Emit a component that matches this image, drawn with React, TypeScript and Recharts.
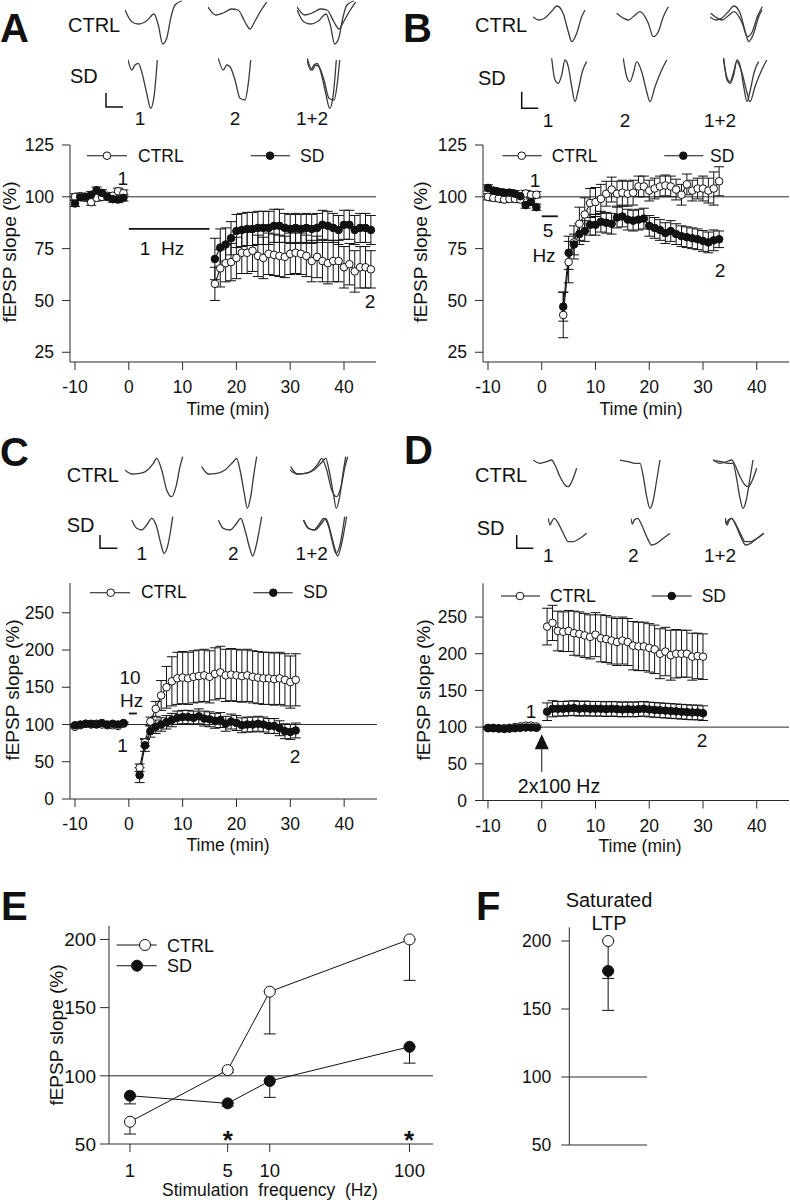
import React from 'react';
import { LineChart, Line, XAxis, YAxis, ErrorBar, ReferenceLine, ReferenceDot } from 'recharts';

const FONT = '"Liberation Sans", Arial, Helvetica, sans-serif';
const INK = '#111';
const AXIS = '#2a2a2a';
const TRACE = '#3a3a3a';

// ---------- shared ----------
const TIME_TICKS = [-10, 0, 10, 20, 30, 40];
const BASE_T = [-10, -9, -8, -7, -6, -5, -4, -3, -2, -1];
const BASE_ERR = [1.5, 1.5, 1.5, 1.5, 1.5, 1.5, 1.5, 1.5, 1.5, 1.5];

// ---------- Panel A (1 Hz) ----------
const A_ctrlBase = [100, 100.3, 99.5, 97.4, 99.5, 100, 100.5, 100.5, 102.7, 101.8];
const A_sdBase = [96.8, 99.8, 100, 101, 103.2, 101.9, 100, 98.9, 98.7, 99.5];
const A_postT = [16, 17, 18, 19, 20, 21, 22, 23, 24, 25, 26, 27, 28, 29, 30, 31, 32, 33, 34, 35, 36, 37, 38, 39, 40, 41, 42, 43, 44, 45];
const A_ctrlPost = [58, 65.5, 68, 68.5, 70.5, 73, 73, 74, 71.5, 70.5, 72.5, 72, 71.5, 71, 72.5, 73, 72.5, 71.5, 69, 71, 69, 68, 69, 69, 66, 67.5, 64, 66, 66, 65];
const A_sdPost = [70, 75.5, 77, 80, 83.5, 84, 84.5, 84.5, 85, 85, 85, 86, 86, 85, 84.5, 85, 84.5, 85, 84.5, 85, 86.5, 86, 85, 84, 86.5, 86.5, 84, 85, 85, 84];
const A_ctrlErr = [8, 9, 9, 9, 10, 10, 10, 10, 10, 10, 10, 10, 10, 10, 10, 10, 10, 10, 10, 10, 10, 10, 10, 10, 10, 10, 10, 10, 10, 9];
const A_sdErr = [10, 9, 8, 8, 8, 8, 8, 8, 8, 8, 8, 8, 8, 7, 7, 7, 7, 7, 7, 7, 7, 7, 7, 7, 7, 7, 7, 7, 7, 7];

// ---------- Panel B (5 Hz) ----------
const B_ctrlBase = [100, 99.5, 99.2, 98.7, 99, 99, 98.7, 101.6, 101, 101];
const B_sdBase = [104.3, 103, 102.4, 102, 102, 101.5, 100.3, 96, 97.5, 95];
const B_postT = [4, 5, 6, 7, 8, 9, 10, 11, 12, 13, 14, 15, 16, 17, 18, 19, 20, 21, 22, 23, 24, 25, 26, 27, 28, 29, 30, 31, 32, 33];
const B_ctrlPost = [43, 68.5, 78, 87, 91.5, 97, 97.5, 99, 101.5, 103.5, 101.5, 102, 101.5, 102, 105, 105, 103, 104, 105, 105.5, 105, 103.5, 101, 106, 103, 104, 104, 103, 104, 107.5];
const B_sdPost = [47, 73, 77, 82, 83.5, 86.5, 86.5, 88, 87.5, 87, 90, 90.5, 89, 88.5, 89, 89.5, 86, 85, 84, 82.5, 83.5, 82, 81, 80.5, 80, 79.5, 78.7, 78, 79, 79.5];
const B_ctrlErr = [11, 10, 8, 8, 8, 7, 7, 7, 6, 6, 6, 6, 6, 6, 5, 5, 5, 5, 5, 5, 5, 5, 5, 5, 5, 5, 6, 6, 8, 7];
const B_sdErr = [7, 8, 5, 5, 5, 5, 5, 5, 5, 5, 5, 5, 5, 5, 5, 5, 5, 5, 5, 5, 5, 5, 5, 5, 5, 5, 5, 5, 5, 4];

// ---------- Panel C (10 Hz) ----------
const C_ctrlBase = [97, 99, 101, 100, 101, 100, 99, 99, 98, 101];
const C_sdBase = [99, 100, 101, 101, 100, 102, 100, 101, 100, 102];
const C_postT = [2, 3, 4, 5, 6, 7, 8, 9, 10, 11, 12, 13, 14, 15, 16, 17, 18, 19, 20, 21, 22, 23, 24, 25, 26, 27, 28, 29, 30, 31];
const C_ctrlPost = [42, 76, 104, 121, 139, 150, 158, 162, 163, 162, 164, 165, 166, 164, 168, 170, 166, 167, 166, 165, 166, 164, 163, 162, 162, 161, 162, 160, 157, 160];
const C_sdPost = [32, 72, 91, 97, 100, 103, 106, 109, 110, 110, 109, 111, 108, 107, 105, 106, 101, 104, 102, 99, 100, 100, 101, 100, 98, 98, 95, 91, 90, 92];
const C_ctrlErr = [5, 5, 6, 10, 20, 28, 33, 35, 35, 35, 35, 35, 35, 35, 35, 35, 35, 35, 35, 35, 35, 35, 35, 35, 35, 35, 35, 35, 35, 35];
const C_sdErr = [10, 8, 8, 9, 9, 9, 9, 9, 9, 9, 9, 10, 10, 10, 10, 10, 10, 10, 10, 10, 10, 10, 10, 10, 10, 10, 10, 10, 10, 10];

// ---------- Panel D (2x100 Hz) ----------
const D_ctrlBase = [99, 99, 98.5, 98.5, 99, 100, 101, 102, 102, 101];
const D_sdBase = [98.5, 98.5, 98, 97.5, 98, 98.5, 99, 99.5, 99.5, 99];
const D_postT = [1, 2, 3, 4, 5, 6, 7, 8, 9, 10, 11, 12, 13, 14, 15, 16, 17, 18, 19, 20, 21, 22, 23, 24, 25, 26, 27, 28, 29, 30];
const D_ctrlPost = [237, 242, 231, 230, 231, 228, 227, 225, 223, 226, 221, 220, 218, 216, 218, 216, 211, 210, 210, 208, 206, 200, 203, 198, 200, 200, 200, 196, 197, 196];
const D_sdPost = [121, 125, 125, 125, 125.5, 126, 125, 125.5, 125, 125, 125, 124.5, 125, 124.5, 124, 124.5, 124, 124.5, 125, 124, 123.5, 123, 122.5, 122, 121.5, 121, 120.5, 120, 120, 119];
const D_ctrlErr = [25, 24, 27, 27, 28, 30, 30, 30, 30, 30, 32, 32, 32, 32, 32, 32, 33, 33, 33, 33, 33, 34, 33, 34, 33, 32, 32, 32, 31, 31];
const D_sdErr = [12, 11, 10, 10, 10, 10, 10, 10, 10, 10, 10, 10, 10, 10, 10, 10, 10, 10, 10, 10, 10, 10, 10, 10, 10, 10, 10, 10, 10, 10];

// ---------- Panel E ----------
const E_freq = [1, 5, 10, 100];
const E_ctrl = [66.3, 104.2, 161.7, 200];
const E_ctrlErr = [9, 2, 31, 30];
const E_sd = [85.4, 79.8, 96.2, 121.3];
const E_sdErr = [6, 2, 12, 12];

// ---------- Panel F ----------
const F_ctrl = [200];
const F_ctrlErr = [27.5];
const F_sd = [178];
const F_sdErr = [29];

// ---------- fEPSP traces ([time, amplitude]) ----------
const TR_A_c1 = [[0, -10], [6.7, -21.7], [13.3, -24], [21.7, -20.7], [29, -14], [33.3, -25], [37.7, -44], [41.7, -38.3], [45.7, -18.3], [50, -5], [56.7, -1]];
const TR_A_c2 = [[0, -7], [8, -15], [15, -13], [23.7, -9], [30, -10], [37, -22], [42, -29], [47, -21], [52, -12], [58.7, -2]];
const TR_A_s1 = [[0, -2], [3.7, -12], [7, -7], [10.3, -5.3], [13.7, -13.7], [18.7, -35.3], [22.7, -50.3], [26, -38.7], [28, -18.7], [29.3, -2]];
const TR_A_s2 = [[0.3, -0.3], [5.3, -12], [8.7, -7], [12, -8.7], [17, -22], [22, -40.3], [27, -42], [30.3, -25.3], [32.7, -2]];
const TR_B_c1 = [[0, -17], [6, -20], [12, -18], [18, -12], [24, -6], [30, -13], [35.3, -31.7], [38.7, -41.7], [43.7, -33.3], [48.7, -16.7], [52, -10]];
const TR_B_c2 = [[0.7, -13.3], [7, -18], [12.3, -20], [18, -16], [24, -11.7], [32.3, -23.3], [37.3, -36.7], [42.3, -31.7], [47.3, -16.7], [52.3, -6.7]];
const TR_B_s1 = [[0.7, -2.3], [4, -24], [7.3, -27.3], [10.7, -19], [14, -4], [17.3, -10.7], [20.7, -30.7], [24, -45.7], [27.3, -34], [31.3, -15.7], [35.7, -5.7]];
const TR_B_s2 = [[0.3, -2.3], [3.7, -20.7], [7, -25.7], [10.3, -17.3], [13.7, -5.7], [18.7, -15.7], [23.7, -35.7], [27, -45.7], [32, -30.7], [38.7, -14], [43.7, -4]];
const TR_C_c1 = [[0, -15], [6.7, -19], [15, -18.3], [21.7, -15.7], [28.3, -8.3], [31.7, -3.3], [36.7, -15], [41.7, -35], [46.7, -41.7], [51, -31.7], [55, -11.7], [57.7, -1.7]];
const TR_C_c2 = [[0.7, -11.7], [7.3, -19], [15.7, -18.3], [24, -15], [32.3, -6.7], [35.7, -3.3], [39, -15], [43.3, -38.3], [46.3, -53.3], [49.7, -41.7], [53, -18.3], [55.7, -1.7]];
const TR_C_s1 = [[0.7, -5], [5.7, -13.3], [10.7, -15], [15.7, -10], [20.7, -3.3], [25.7, -11.7], [29.7, -28.3], [33, -38.3], [37.3, -28.3], [39.7, -15], [41.7, -1.7]];
const TR_C_s2 = [[0.3, -5], [5.3, -13.3], [12, -15], [18.7, -8.3], [22.7, -3.3], [27, -15], [31.3, -31.7], [34.7, -41], [38.7, -28.3], [41.3, -15], [43.7, -1.7]];
const TR_D_c1 = [[0.3, -5], [7, -8.3], [13.7, -6.7], [18.7, -5], [22, -10], [27, -21.7], [32, -30], [35.3, -31.7], [38.7, -26.7], [43.7, -13.3]];
const TR_D_c2 = [[0, -5], [8.3, -6.7], [15, -8.3], [20, -8.3], [23.3, -21.7], [26.7, -41.7], [30, -53.3], [33.3, -45], [36.7, -25], [40, -5]];
const TR_D_s1 = [[0.3, -3.3], [2, -10], [3.7, -6.7], [6.3, -3.3], [10.3, -8.3], [15.3, -18.3], [20.3, -26.7], [25.3, -26.7], [32, -23.3], [38.7, -18.3]];
const TR_D_s2 = [[0, -3.3], [1.3, -9], [3.3, -5], [6.7, -3.3], [10.7, -10], [15.7, -21.7], [20.7, -30], [25.7, -28.3], [32.3, -23.3], [39, -18.3]];

// ---------- helpers ----------
function buildRows(baseC: number[], baseS: number[], gapT: number, postT: number[], postC: number[], postS: number[], postCE: number[], postSE: number[]) {
  const rows: any[] = [];
  BASE_T.forEach((t, i) => rows.push({ t, ctrl: baseC[i], sd: baseS[i], ctrlErr: BASE_ERR[i], sdErr: BASE_ERR[i] }));
  rows.push({ t: gapT, ctrl: null, sd: null });
  postT.forEach((t, i) => rows.push({ t, ctrl: postC[i], sd: postS[i], ctrlErr: postCE[i], sdErr: postSE[i] }));
  return rows;
}

const rowsA = buildRows(A_ctrlBase, A_sdBase, 5, A_postT, A_ctrlPost, A_sdPost, A_ctrlErr, A_sdErr);
const rowsB = buildRows(B_ctrlBase, B_sdBase, 1.5, B_postT, B_ctrlPost, B_sdPost, B_ctrlErr, B_sdErr);
const rowsC = buildRows(C_ctrlBase, C_sdBase, 0.5, C_postT, C_ctrlPost, C_sdPost, C_ctrlErr, C_sdErr);
const rowsD = buildRows(D_ctrlBase, D_sdBase, 0, D_postT, D_ctrlPost, D_sdPost, D_ctrlErr, D_sdErr);

const rowsE = E_freq.map((f, i) => ({ lx: Math.log10(f), ctrl: E_ctrl[i], sd: E_sd[i], ctrlErr: [E_ctrlErr[i], 0], sdErr: [E_sdErr[i], 0] }));
const E_ticks = E_freq.map((f) => Math.log10(f));
const rowsF = [{ x: 1, ctrl: F_ctrl[0], sd: F_sd[0], ctrlErr: [F_ctrlErr[0], 0], sdErr: [F_sdErr[0], 0] }];

type Box = { l: number; r: number; t: number; b: number };

const tickStyle = (size: number) => ({ fontSize: size, fill: INK, fontFamily: FONT });

function TimePanel(props: {
  left: number; top: number; width: number; height: number; plot: Box;
  xDomain: [number, number]; yDomain: [number, number]; yTicks: number[]; rows: any[]; children?: any;
}) {
  const { left, top, width, height, plot, xDomain, yDomain, yTicks, rows, children } = props;
  const margin = { top: plot.t - top, right: left + width - plot.r, bottom: 0, left: 0 };
  return (
    <div style={{ position: 'absolute', left, top }}>
      <LineChart width={width} height={height} data={rows} margin={margin}>
        <XAxis type="number" dataKey="t" domain={xDomain} ticks={TIME_TICKS} allowDataOverflow
          height={top + height - plot.b} tickSize={8} tickMargin={11} interval={0} stroke={AXIS} tick={tickStyle(17.5)} />
        <YAxis type="number" domain={yDomain} ticks={yTicks} allowDataOverflow width={plot.l - left}
          tickSize={8} tickMargin={8} interval={0} stroke={AXIS} tick={tickStyle(17.5)} />
        <ReferenceLine y={100} stroke={AXIS} strokeWidth={1} />
        {children}
        <Line dataKey="ctrl" stroke={INK} strokeWidth={1.1} isAnimationActive={false}
          dot={{ r: 3.8, fill: '#fff', stroke: INK, strokeWidth: 1 }} activeDot={false}>
          <ErrorBar dataKey="ctrlErr" width={5} stroke={INK} strokeWidth={1} direction="y" />
        </Line>
        <Line dataKey="sd" stroke={INK} strokeWidth={1.1} isAnimationActive={false}
          dot={{ r: 3.8, fill: INK, stroke: INK, strokeWidth: 1 }} activeDot={false}>
          <ErrorBar dataKey="sdErr" width={5} stroke={INK} strokeWidth={1} direction="y" />
        </Line>
      </LineChart>
    </div>
  );
}

function Trace({ x, y, lines }: { x: number; y: number; lines: number[][][] }) {
  return (
    <div style={{ position: 'absolute', left: x - 5, top: y - 5 }}>
      <LineChart width={70} height={70} margin={{ top: 5, right: 5, bottom: 5, left: 5 }}>
        <XAxis type="number" dataKey="x" domain={[0, 60]} hide allowDataOverflow />
        <YAxis type="number" domain={[-60, 0]} hide allowDataOverflow />
        {lines.map((ln, i) => (
          <Line key={i} data={ln.map(([px, v]) => ({ x: px, v }))} dataKey="v" type="monotone"
            stroke={TRACE} strokeWidth={1.3} dot={false} activeDot={false} isAnimationActive={false} />
        ))}
      </LineChart>
    </div>
  );
}

const TRACE_BOXES = [
  { x: 125, y: 0, lines: [TR_A_c1] }, { x: 208, y: 0, lines: [TR_A_c2] }, { x: 297, y: 0, lines: [TR_A_c1, TR_A_c2] },
  { x: 128, y: 58, lines: [TR_A_s1] }, { x: 218, y: 58, lines: [TR_A_s2] }, { x: 307, y: 58, lines: [TR_A_s1, TR_A_s2] },
  { x: 533, y: 0, lines: [TR_B_c1] }, { x: 616, y: 0, lines: [TR_B_c2] }, { x: 710, y: 0, lines: [TR_B_c1, TR_B_c2] },
  { x: 551, y: 56, lines: [TR_B_s1] }, { x: 623, y: 56, lines: [TR_B_s2] }, { x: 723, y: 56, lines: [TR_B_s1, TR_B_s2] },
  { x: 125, y: 455, lines: [TR_C_c1] }, { x: 201, y: 455, lines: [TR_C_c2] }, { x: 290, y: 455, lines: [TR_C_c1, TR_C_c2] },
  { x: 131, y: 515, lines: [TR_C_s1] }, { x: 218, y: 515, lines: [TR_C_s2] }, { x: 303, y: 515, lines: [TR_C_s1, TR_C_s2] },
  { x: 533, y: 455, lines: [TR_D_c1] }, { x: 620, y: 455, lines: [TR_D_c2] }, { x: 713, y: 455, lines: [TR_D_c1, TR_D_c2] },
  { x: 548, y: 515, lines: [TR_D_s1] }, { x: 631, y: 515, lines: [TR_D_s2] }, { x: 725, y: 515, lines: [TR_D_s1, TR_D_s2] },
];

// ---------- overlay text ----------
function Txt({ x, y, s = 17.5, a = 'start', w = 'normal', children }: any) {
  return (
    <text x={x} y={y} fontSize={s} fontFamily={FONT} textAnchor={a} fontWeight={w} fill={INK} style={{ whiteSpace: 'pre' }}>
      {children}
    </text>
  );
}
function YTitle({ x, y, s = 19 }: any) {
  return (
    <text x={x} y={y} fontSize={s} fontFamily={FONT} textAnchor="middle" dominantBaseline="central" fill={INK}
      transform={`rotate(-90 ${x} ${y})`}>fEPSP slope (%)</text>
  );
}
function Leg({ x1, x2, cx, y, r = 3.8, filled, label, tx, ty, s = 17.5 }: any) {
  return (
    <g>
      <line x1={x1} x2={x2} y1={y} y2={y} stroke={INK} strokeWidth={1.1} />
      <circle cx={cx} cy={y} r={r} fill={filled ? INK : '#fff'} stroke={INK} strokeWidth={1} />
      <Txt x={tx} y={ty} s={s}>{label}</Txt>
    </g>
  );
}
function ScaleBar({ x, y1, y2, x2 }: any) {
  return <polyline points={`${x},${y1} ${x},${y2} ${x2},${y2}`} fill="none" stroke={INK} strokeWidth={1.5} />;
}

function Overlay() {
  return (
    <svg width={790} height={1200} style={{ position: 'absolute', left: 0, top: 0, pointerEvents: 'none' }}>
      {/* panel letters */}
      <Txt x={0} y={42} s={40} w="bold">A</Txt>
      <Txt x={403} y={42} s={40} w="bold">B</Txt>
      <Txt x={0} y={466} s={40} w="bold">C</Txt>
      <Txt x={404} y={464} s={40} w="bold">D</Txt>
      <Txt x={1} y={920} s={40} w="bold">E</Txt>
      <Txt x={476} y={920} s={40} w="bold">F</Txt>

      {/* inset labels A */}
      <Txt x={68} y={31.7} s={20}>CTRL</Txt>
      <Txt x={70} y={83.3} s={20}>SD</Txt>
      <Txt x={140} y={125} s={19} a="middle">1</Txt>
      <Txt x={235} y={125} s={19} a="middle">2</Txt>
      <Txt x={312} y={125} s={19} a="middle">1+2</Txt>
      <ScaleBar x={106} y1={93} y2={107} x2={123} />
      {/* inset labels B */}
      <Txt x={475} y={31.7} s={20}>CTRL</Txt>
      <Txt x={478} y={85} s={20}>SD</Txt>
      <Txt x={548} y={126.7} s={19} a="middle">1</Txt>
      <Txt x={625} y={126.7} s={19} a="middle">2</Txt>
      <Txt x={720} y={126.7} s={19} a="middle">1+2</Txt>
      <ScaleBar x={521.7} y1={91.7} y2={108.3} x2={538.3} />
      {/* inset labels C */}
      <Txt x={66.7} y={481.7} s={20}>CTRL</Txt>
      <Txt x={66.7} y={531.7} s={20}>SD</Txt>
      <Txt x={141.7} y={560} s={19} a="middle">1</Txt>
      <Txt x={233.3} y={560} s={19} a="middle">2</Txt>
      <Txt x={311.7} y={560} s={19} a="middle">1+2</Txt>
      <ScaleBar x={100} y1={535} y2={548.3} x2={117.3} />
      {/* inset labels D */}
      <Txt x={475} y={481.7} s={20}>CTRL</Txt>
      <Txt x={476.7} y={535} s={20}>SD</Txt>
      <Txt x={548.3} y={561.7} s={19} a="middle">1</Txt>
      <Txt x={633.3} y={561.7} s={19} a="middle">2</Txt>
      <Txt x={720} y={561.7} s={19} a="middle">1+2</Txt>
      <ScaleBar x={516.7} y1={535} y2={548.3} x2={533.3} />

      {/* legends */}
      <Leg x1={87} x2={127} cx={107} y={155.7} label="CTRL" tx={138} ty={161.7} />
      <Leg x1={250.7} x2={290} cx={270} y={155.7} filled label="SD" tx={300} ty={161.7} />
      <Leg x1={502.3} x2={541.7} cx={521.7} y={155.7} label="CTRL" tx={551.7} ty={161.7} />
      <Leg x1={664.3} x2={703.3} cx={683.3} y={155.7} filled label="SD" tx={710} ty={161.7} />
      <Leg x1={90} x2={130} cx={110.7} y={592.7} label="CTRL" tx={141} ty={598.3} />
      <Leg x1={253.3} x2={292.7} cx={273.3} y={592.7} filled label="SD" tx={303.3} ty={598.3} />
      <Leg x1={501} x2={540} cx={520} y={596} label="CTRL" tx={550} ty={601.7} />
      <Leg x1={651.7} x2={691.7} cx={671.7} y={596} filled label="SD" tx={701.7} ty={601.7} />
      <Leg x1={116.7} x2={156.7} cx={145} y={945} r={5.5} label="CTRL" tx={167} ty={951.7} s={18} />
      <Leg x1={116.7} x2={156.7} cx={137} y={965.7} r={5.5} filled label="SD" tx={167} ty={971.7} s={18} />

      {/* axis titles */}
      <YTitle x={9} y={252} />
      <YTitle x={420} y={252} />
      <YTitle x={12} y={690} />
      <YTitle x={423} y={690} />
      <YTitle x={56} y={1035} />
      <Txt x={228} y={415} a="middle">Time (min)</Txt>
      <Txt x={641} y={415} a="middle">Time (min)</Txt>
      <Txt x={228} y={851} a="middle">Time (min)</Txt>
      <Txt x={640} y={852} a="middle">Time (min)</Txt>
      <Txt x={270} y={1196} s={17.5} a="middle">{'Stimulation  frequency  (Hz)'}</Txt>

      {/* annotations */}
      <Txt x={122.7} y={185} s={19} a="middle">1</Txt>
      <Txt x={370} y={308} s={19} a="middle">2</Txt>
      <Txt x={162} y={255} s={19} a="middle">{'1  Hz'}</Txt>
      <Txt x={535} y={186.7} s={19} a="middle">1</Txt>
      <Txt x={720} y={276.7} s={19} a="middle">2</Txt>
      <Txt x={548} y={236.7} s={19} a="middle">5</Txt>
      <Txt x={544} y={261.7} s={19} a="middle">Hz</Txt>
      <Txt x={130} y={684} s={19} a="middle">10</Txt>
      <Txt x={131.7} y={707} s={19} a="middle">Hz</Txt>
      <Txt x={122.5} y={751.7} s={19} a="middle">1</Txt>
      <Txt x={295} y={763} s={19} a="middle">2</Txt>
      <Txt x={531} y={718.3} s={19} a="middle">1</Txt>
      <Txt x={702} y={746.7} s={19} a="middle">2</Txt>
      <Txt x={559} y={793.3} s={19.5} a="middle">2x100 Hz</Txt>
      <Txt x={227.7} y={1149} s={26} a="middle" w="bold">*</Txt>
      <Txt x={409} y={1149} s={26} a="middle" w="bold">*</Txt>
      <Txt x={609} y={906.7} s={20} a="middle">Saturated</Txt>
      <Txt x={609} y={930} s={20} a="middle">LTP</Txt>
    </svg>
  );
}

const triangle = (p: any) => (
  <polygon points={`${p.cx},${p.cy - 7.5} ${p.cx - 7},${p.cy + 7.5} ${p.cx + 7},${p.cy + 7.5}`} fill={INK} />
);

export default function App() {
  return (
    <div style={{ position: 'absolute', left: 0, top: 0, width: 790, height: 1200, background: '#fff', overflow: 'hidden' }}>
      {TRACE_BOXES.map((b, i) => <Trace key={i} x={b.x} y={b.y} lines={b.lines} />)}

      <TimePanel left={0} top={120} width={395} height={300} plot={{ l: 70, r: 376, t: 145, b: 362 }}
        xDomain={[-10.93, 45.95]} yDomain={[20.3, 125]} yTicks={[25, 50, 75, 100, 125]} rows={rowsA}>
        <ReferenceLine segment={[{ x: 0, y: 84.5 }, { x: 15, y: 84.5 }]} stroke={INK} strokeWidth={1.8} />
      </TimePanel>

      <TimePanel left={395} top={120} width={395} height={300} plot={{ l: 483, r: 789, t: 145, b: 362 }}
        xDomain={[-10.93, 46]} yDomain={[20.3, 125]} yTicks={[25, 50, 75, 100, 125]} rows={rowsB}>
        <ReferenceLine segment={[{ x: 0, y: 90.6 }, { x: 3, y: 90.6 }]} stroke={INK} strokeWidth={1.8} />
      </TimePanel>

      <TimePanel left={0} top={560} width={395} height={300} plot={{ l: 70, r: 377, t: 583, b: 799 }}
        xDomain={[-10.93, 46.1]} yDomain={[0, 290]} yTicks={[0, 50, 100, 150, 200, 250]} rows={rowsC}>
        <ReferenceLine segment={[{ x: 0, y: 114.8 }, { x: 1.5, y: 114.8 }]} stroke={INK} strokeWidth={1.8} />
      </TimePanel>

      <TimePanel left={395} top={560} width={395} height={300} plot={{ l: 483, r: 789, t: 583.3, b: 800.5 }}
        xDomain={[-10.93, 46]} yDomain={[0, 296]} yTicks={[0, 50, 100, 150, 200, 250]} rows={rowsD}>
        <ReferenceLine segment={[{ x: 0, y: 39 }, { x: 0, y: 72 }]} stroke={INK} strokeWidth={1} />
        <ReferenceDot x={0} y={80} r={7} shape={triangle} />
      </TimePanel>

      {/* Panel E */}
      <div style={{ position: 'absolute', left: 0, top: 900 }}>
        <LineChart width={470} height={300} data={rowsE} margin={{ top: 25.8, right: 37, bottom: 0, left: 0 }}>
          <XAxis type="number" dataKey="lx" domain={[-0.15, 2.168]} ticks={E_ticks} allowDataOverflow height={56}
            tickSize={8} tickMargin={12} interval={0} stroke={AXIS} tick={tickStyle(18.5)}
            tickFormatter={(v: number) => String(E_freq[E_ticks.findIndex((t) => Math.abs(t - v) < 1e-6)])} />
          <YAxis type="number" domain={[50, 210]} ticks={[50, 100, 150, 200]} allowDataOverflow width={109}
            tickSize={9} tickMargin={4} interval={0} stroke={AXIS} tick={tickStyle(19)} />
          <ReferenceLine y={100} stroke={AXIS} strokeWidth={1} />
          <Line dataKey="ctrl" stroke={INK} strokeWidth={1} isAnimationActive={false}
            dot={{ r: 5.5, fill: '#fff', stroke: INK, strokeWidth: 1 }} activeDot={false}>
            <ErrorBar dataKey="ctrlErr" width={6} stroke={INK} strokeWidth={1} direction="y" />
          </Line>
          <Line dataKey="sd" stroke={INK} strokeWidth={1} isAnimationActive={false}
            dot={{ r: 5.5, fill: INK, stroke: INK, strokeWidth: 1 }} activeDot={false}>
            <ErrorBar dataKey="sdErr" width={6} stroke={INK} strokeWidth={1} direction="y" />
          </Line>
        </LineChart>
      </div>

      {/* Panel F */}
      <div style={{ position: 'absolute', left: 470, top: 900 }}>
        <LineChart width={200} height={300} data={rowsF} margin={{ top: 27.4, right: 23, bottom: 0, left: 0 }}>
          <XAxis type="number" dataKey="x" domain={[0, 2]} allowDataOverflow height={55} tick={false} tickLine={false} stroke={AXIS} />
          <YAxis type="number" domain={[50, 210]} ticks={[50, 100, 150, 200]} allowDataOverflow width={99.3}
            tickSize={8} tickMargin={10} interval={0} stroke={AXIS} tick={tickStyle(17.5)} />
          <ReferenceLine y={100} stroke={AXIS} strokeWidth={1} />
          <Line dataKey="ctrl" stroke={INK} isAnimationActive={false}
            dot={{ r: 5.5, fill: '#fff', stroke: INK, strokeWidth: 1 }} activeDot={false}>
            <ErrorBar dataKey="ctrlErr" width={6} stroke={INK} strokeWidth={1} direction="y" />
          </Line>
          <Line dataKey="sd" stroke={INK} isAnimationActive={false}
            dot={{ r: 5.5, fill: INK, stroke: INK, strokeWidth: 1 }} activeDot={false}>
            <ErrorBar dataKey="sdErr" width={6} stroke={INK} strokeWidth={1} direction="y" />
          </Line>
        </LineChart>
      </div>

      <Overlay />
    </div>
  );
}
